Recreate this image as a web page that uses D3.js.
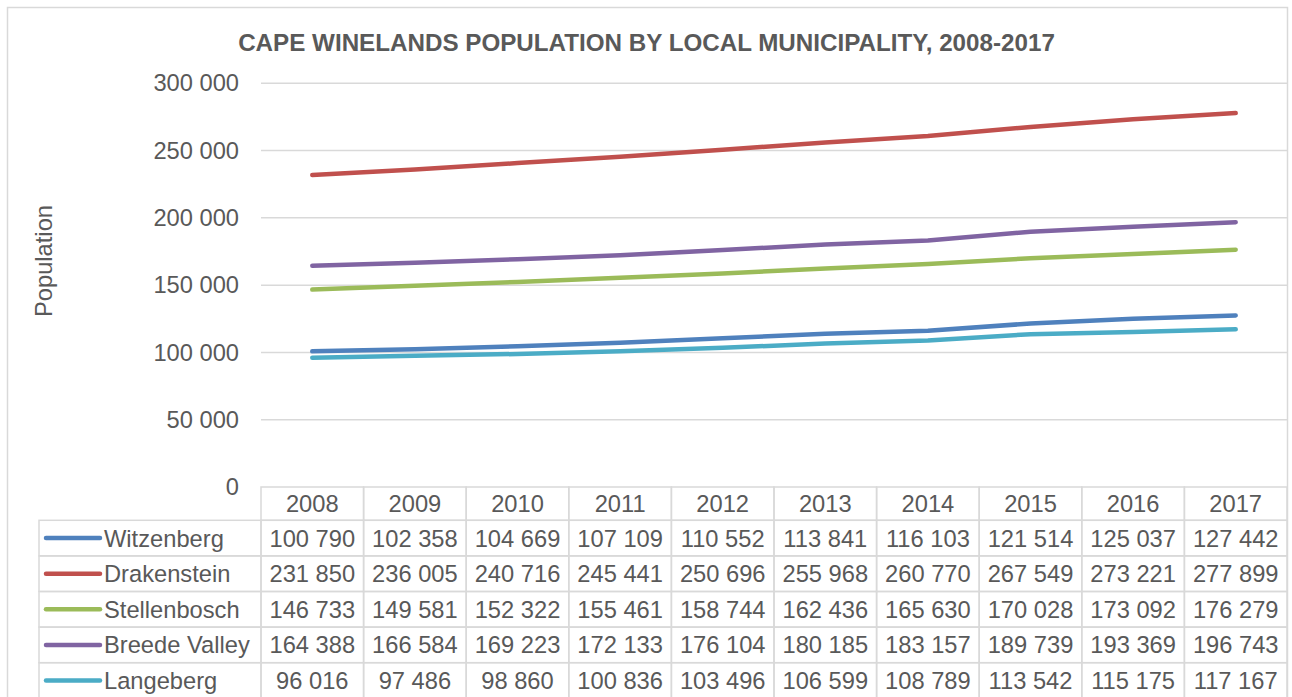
<!DOCTYPE html>
<html><head><meta charset="utf-8">
<script src="https://cdn.jsdelivr.net/npm/d3@7"></script>
<style>
html,body{margin:0;padding:0;background:#fff;}
svg text{font-family:"Liberation Sans",Arial,sans-serif;fill:#595959;}
</style></head>
<body><svg id="c" width="1292" height="697"></svg>
<script>
const years = ["2008","2009","2010","2011","2012","2013","2014","2015","2016","2017"];
const seriesNames = ["Witzenberg","Drakenstein","Stellenbosch","Breede Valley","Langeberg"];
const witzenberg   = [100790,102358,104669,107109,110552,113841,116103,121514,125037,127442];
const drakenstein  = [231850,236005,240716,245441,250696,255968,260770,267549,273221,277899];
const stellenbosch = [146733,149581,152322,155461,158744,162436,165630,170028,173092,176279];
const breedeValley = [164388,166584,169223,172133,176104,180185,183157,189739,193369,196743];
const langeberg    = [96016,97486,98860,100836,103496,106599,108789,113542,115175,117167];
const yTicks = [0,50000,100000,150000,200000,250000,300000];
const colors = ["#4F81BD","#C0504D","#9BBB59","#8064A2","#4BACC6"];
const title = "CAPE WINELANDS POPULATION BY LOCAL MUNICIPALITY, 2008-2017";
const yLabel = "Population";

const values = [witzenberg, drakenstein, stellenbosch, breedeValley, langeberg];
const series = seriesNames.map((n,i)=>({name:n, color:colors[i], vals:values[i]}));

const fmt = d3.formatLocale({decimal:".",thousands:" ",grouping:[3],currency:["",""]}).format(",");
const svg = d3.select("#c");
const grid = "#d9d9d9";

// outer border
svg.append("rect").attr("x",7.5).attr("y",7.5).attr("width",1280).attr("height",720)
  .attr("fill","none").attr("stroke",grid).attr("stroke-width",1.5);

const L=261, R=1287, T=83.3, B=487;
const x = d3.scaleBand().domain(years).range([L,R]).padding(0);
const y = d3.scaleLinear().domain([0,300000]).range([B,T]);
const cx = d => x(d)+x.bandwidth()/2;

// title
svg.append("text").attr("x",646.5).attr("y",51).attr("text-anchor","middle")
  .style("font-weight","bold").style("font-size","24.2px").text(title);

// gridlines
svg.append("g").selectAll("line").data(yTicks.filter(d=>d>0)).join("line")
  .attr("x1",L).attr("x2",R).attr("y1",d=>y(d)).attr("y2",d=>y(d))
  .attr("stroke",grid).attr("stroke-width",1.5);

// y axis labels
const yAxis = d3.axisLeft(y).tickValues(yTicks).tickFormat(fmt).tickSize(0).tickPadding(22);
const ga = svg.append("g").attr("transform",`translate(${L},0)`).call(yAxis);
ga.select(".domain").remove();
ga.selectAll("text").style("font-size","23.7px").attr("fill","#595959")
  .style("font-family","'Liberation Sans',Arial,sans-serif");

svg.append("text").attr("transform","translate(52,261) rotate(-90)").attr("text-anchor","middle")
  .style("font-size","23.7px").text(yLabel);

// lines
const line = d3.line().x((d,i)=>cx(years[i])).y(d=>y(d));
svg.append("g").selectAll("path").data(series).join("path")
  .attr("d",d=>line(d.vals)).attr("fill","none").attr("stroke",d=>d.color)
  .attr("stroke-width",4.5).attr("stroke-linecap","round").attr("stroke-linejoin","round");

// data table
const rowH = 35.6, headH = 33.3, legL = 39;
const tg = svg.append("g");
tg.selectAll("rect.h").data(years).join("rect").attr("class","h")
  .attr("x",d=>x(d)).attr("y",B).attr("width",x.bandwidth()).attr("height",headH)
  .attr("fill","none").attr("stroke",grid).attr("stroke-width",1.5);
tg.selectAll("text.h").data(years).join("text").attr("class","h")
  .attr("x",d=>cx(d)).attr("y",B+headH/2).attr("dy","0.36em").attr("text-anchor","middle")
  .style("font-size","23.7px").text(d=>d);

series.forEach((s,i)=>{
  const top = B+headH+i*rowH;
  tg.append("rect").attr("x",legL).attr("y",top).attr("width",L-legL).attr("height",rowH)
    .attr("fill","none").attr("stroke",grid).attr("stroke-width",1.5);
  tg.append("line").attr("x1",46).attr("x2",100).attr("y1",top+rowH/2).attr("y2",top+rowH/2)
    .attr("stroke",s.color).attr("stroke-width",4.5).attr("stroke-linecap","round");
  tg.append("text").attr("x",104).attr("y",top+rowH/2).attr("dy","0.36em")
    .style("font-size","23.7px").text(s.name);
  years.forEach((yr,j)=>{
    tg.append("rect").attr("x",x(yr)).attr("y",top).attr("width",x.bandwidth()).attr("height",rowH)
      .attr("fill","none").attr("stroke",grid).attr("stroke-width",1.5);
    tg.append("text").attr("x",cx(yr)).attr("y",top+rowH/2).attr("dy","0.36em").attr("text-anchor","middle")
      .style("font-size","23.7px").text(fmt(s.vals[j]));
  });
});
</script></body></html>
